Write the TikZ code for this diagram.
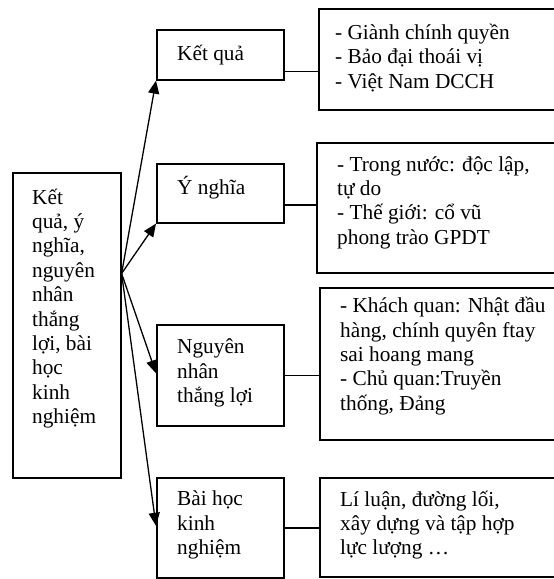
\documentclass[tikz,border=0pt]{standalone}
\usepackage{fontspec}
\setmainfont{Liberation Serif}
\usetikzlibrary{arrows.meta,calc}
\begin{document}
\begin{tikzpicture}[x=1pt,y=-1pt,
  box/.style={draw,line width=1.6pt,rectangle,inner sep=0pt,anchor=north west},
  txt/.style={inner sep=0pt,anchor=west,align=left,font=\fontsize{21.3}{24.4}\selectfont},
  arr/.style={line width=1.3pt,-{Triangle[length=13pt,width=11pt]}},
  conn/.style={line width=1.6pt}]
\useasboundingbox (0,0) rectangle (554,579);
\clip (0,0) rectangle (554,579);
% boxes
\node[box,minimum width=108pt,minimum height=305pt] (left) at (12,172) {};
\node[box,minimum width=127pt,minimum height=50pt] (kq) at (156,29) {};
\node[box,minimum width=127pt,minimum height=59pt] (yn) at (156,163) {};
\node[box,minimum width=127pt,minimum height=101pt] (nn) at (156,324) {};
\node[box,minimum width=127pt,minimum height=100pt] (bh) at (156,477) {};
\node[box,minimum width=260pt,minimum height=101pt] (r1) at (318,8) {};
\node[box,minimum width=262pt,minimum height=130pt] (r2) at (316,142) {};
\node[box,minimum width=259pt,minimum height=152pt] (r3) at (319,287) {};
\node[box,minimum width=259pt,minimum height=99pt] (r4) at (319,477) {};
% texts
\node[txt] (tleft) at (32,308.5) {Kết\\quả, ý\\nghĩa,\\nguyên\\nhân\\thắng\\lợi, bài\\học\\kinh\\nghiệm};
\node[txt] (tkq) at (177,55) {Kết quả};
\node[txt] (tyn) at (177,188) {Ý nghĩa};
\node[txt] (tnn) at (177,373) {Nguyên\\nhân\\thắng lợi};
\node[txt] (tbh) at (177,525) {Bài học\\kinh\\nghiệm};
\node[txt] (tr1) at (335,58) {- Giành chính quyền\\- Bảo đại thoái vị\\- Việt Nam DCCH};
\node[txt] (tr2) at (337,202.5) {- Trong nước: độc lập,\\tự do\\- Thế giới: cổ vũ\\phong trào GPDT};
\node[txt] (tr3) at (340,356) {- Khách quan: Nhật đầu\\hàng, chính quyên ftay\\sai hoang mang\\- Chủ quan:Truyền\\thống, Đảng};
\node[txt] (tr4) at (340,525) {Lí luận, đường lối,\\xây dựng và tập hợp\\lực lượng …};
% arrows
\coordinate (hub) at ($(left.north east)!0.331!(left.south east)$);
\draw[arr] (hub) -- (kq.south west);
\draw[arr] (hub) -- (yn.south west);
\draw[arr] (hub) -- ($(nn.north west)!0.48!(nn.south west)$);
\draw[arr] (hub) -- ($(bh.north west)!0.48!(bh.south west)$);
% connectors
\draw[conn] ($(kq.south east)!0.18!(kq.north east)$) coordinate (k1) -- (k1 -| r1.west);
\draw[conn] ($(yn.south east)!0.305!(yn.north east)$) coordinate (k2) -- (k2 -| r2.west);
\draw[conn] (nn.east) -- (nn.east -| r3.west);
\draw[conn] (bh.east) -- (bh.east -| r4.west);
\end{tikzpicture}
\end{document}
